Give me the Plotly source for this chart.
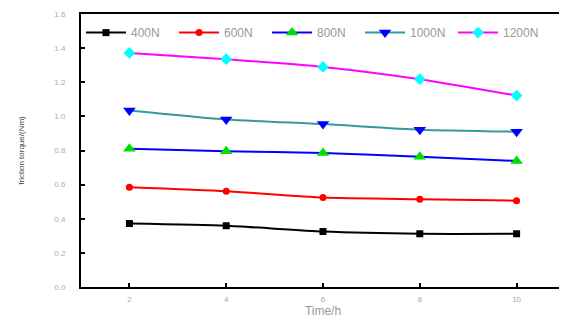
import plotly.graph_objects as go

time_h = [2, 4, 6, 8, 10]
series_names = ["400N", "600N", "800N", "1000N", "1200N"]
torque_400 = [0.372, 0.359, 0.325, 0.312, 0.312]
torque_600 = [0.584, 0.561, 0.524, 0.514, 0.506]
torque_800 = [0.810, 0.796, 0.786, 0.763, 0.739]
torque_1000 = [1.035, 0.982, 0.955, 0.922, 0.910]
torque_1200 = [1.372, 1.335, 1.290, 1.218, 1.122]
y_ticks = [0.0, 0.2, 0.4, 0.6, 0.8, 1.0, 1.2, 1.4, 1.6]
x_ticks = [2, 4, 6, 8, 10]

values = [torque_400, torque_600, torque_800, torque_1000, torque_1200]
line_colors = ["#000000", "#ff0000", "#0000ff", "#339999", "#ff00ff"]
marker_colors = ["#000000", "#ff0000", "#00dd00", "#0000ff", "#00ffff"]
symbols = ["square", "circle", "triangle-up", "triangle-down", "diamond"]
sizes = [7, 7, 11, 11, 9]

fig = go.Figure()
for name, v, lc, mc, s, sz in zip(series_names, values, line_colors, marker_colors, symbols, sizes):
    fig.add_trace(go.Scatter(
        x=time_h, y=v, name=name, mode="lines+markers",
        line=dict(color=lc, width=2, shape="spline", smoothing=0.6),
        marker=dict(color=mc, symbol=s, size=sz),
    ))

# page body has an 8px margin: size the figure so it fills the 567x327 window
W, H = 559, 319
L, R, T, B = 73, 2, 6, 40

fig.update_layout(
    width=W, height=H,
    margin=dict(l=L, r=R, t=T, b=B, autoexpand=False),
    paper_bgcolor="white", plot_bgcolor="white",
    font=dict(family="Liberation Sans, Arial, sans-serif", color="#999999"),
    legend=dict(orientation="h", x=0.0, y=0.985, xanchor="left", yanchor="top",
                font=dict(size=12, color="#999999"), bgcolor="rgba(0,0,0,0)",
                itemwidth=40, entrywidth=38, entrywidthmode="pixels", tracegroupgap=0),
    xaxis=dict(range=[1, 11], tickvals=x_ticks, ticks="inside", ticklen=4,
               tickwidth=1.5, tickcolor="#000000", automargin=False,
               showline=True, linecolor="#000000", linewidth=2, mirror=True,
               showgrid=False, zeroline=False, ticklabelstandoff=3,
               tickfont=dict(size=8, color="#aaaaaa"),
               title=dict(text="Time/h", font=dict(size=12, color="#999999"), standoff=4)),
    yaxis=dict(range=[0, 1.6], tickvals=y_ticks, tickformat=".1f", ticks="inside", ticklen=4,
               tickwidth=1.5, tickcolor="#000000", automargin=False,
               showline=True, linecolor="#000000", linewidth=2, mirror=True,
               showgrid=False, zeroline=False, ticklabelstandoff=12,
               tickfont=dict(size=8, color="#aaaaaa"),
               title=dict(text="friction torque/(Nm)", font=dict(size=8, color="#444444"), standoff=28)),
)

fig.write_html("out.html")
